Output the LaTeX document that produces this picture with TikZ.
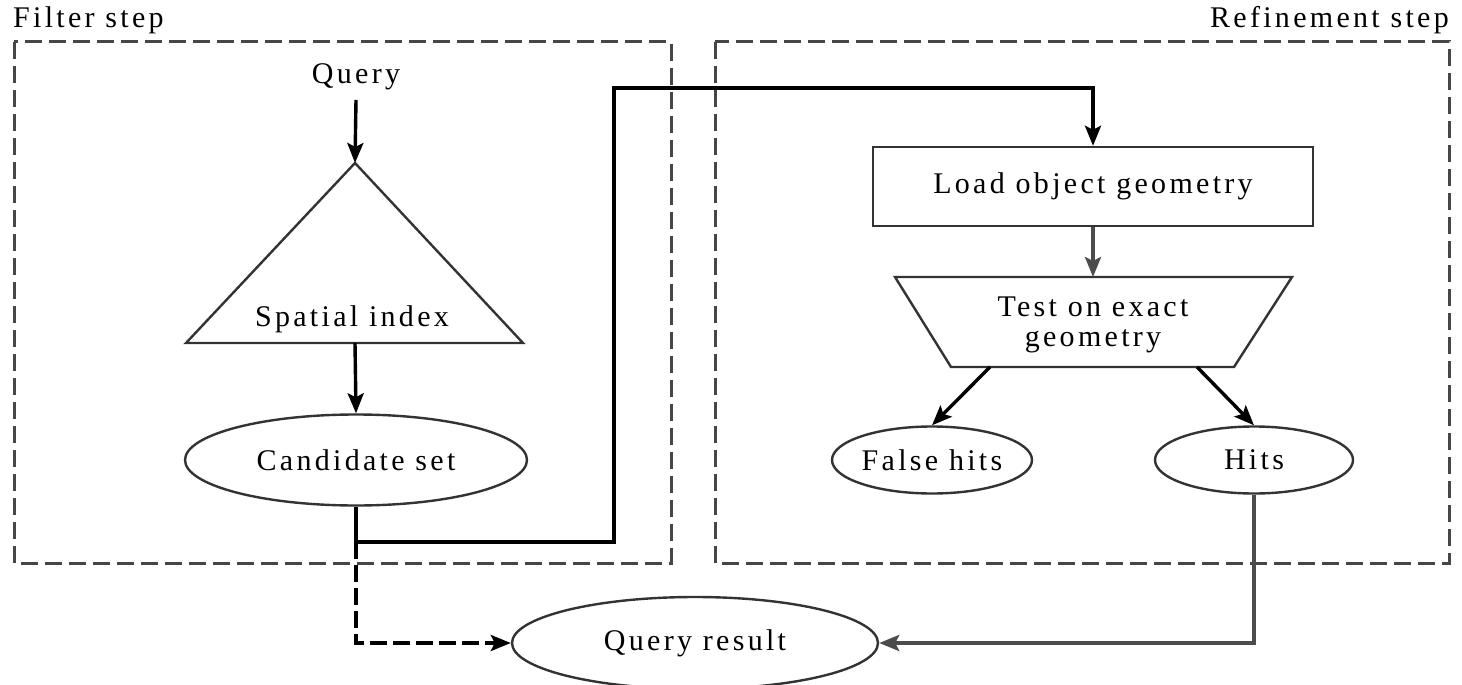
\documentclass[tikz,border=0pt]{standalone}
\usepackage{fontspec}
\setmainfont{Liberation Serif}[LetterSpace=11]
\usetikzlibrary{arrows.meta,shapes.geometric,calc}

\begin{document}
\begin{tikzpicture}[x=1pt,y=-1pt,
  every node/.style={font=\fontsize{30}{30}\selectfont, inner sep=0pt},
  stage/.style={draw=gray!55!black, line width=3pt, dash pattern=on 17pt off 7pt},
  outline/.style={draw=black!80, line width=2.4pt},
  oval/.style={outline, ellipse},
  tip/.style={-{Stealth[length=20pt,width=16pt,inset=4pt]}},
  flow/.style={tip, line width=3.4pt, draw=black},
  flowgray/.style={tip, line width=3.6pt, draw=black!70},
  label/.style={anchor=base}
]
\useasboundingbox (0,0) rectangle (1462,685);

% the two stages
\draw[stage] (14,42) rectangle (671,563);
\draw[stage] (715,42) rectangle (1449,563);
\node[anchor=base west] (filterlbl) at (13,28) {Filter step};
\node[anchor=base east] (refinelbl) at (1449,28) {Refinement step};

% filter step
\node[label] (query) at (356,84) {Query};
\coordinate (apex) at (355,163);
\coordinate (baseL) at (186,343);
\coordinate (baseR) at (523,343);
\coordinate (basemid) at (355,343);
\draw[outline] (apex) -- (baseR) -- (baseL) -- cycle;
\node[label] (index) at (352,326) {Spatial index};
\node[oval, minimum width=342pt, minimum height=91pt] (cand) at (356,460) {Candidate set};

% refinement step
\node[outline, draw, rectangle, minimum width=440pt, minimum height=79pt] (load) at (1093,186.5) {Load object geometry};
\coordinate (tTL) at (895,277);
\coordinate (tTR) at (1292,277);
\coordinate (tBR) at (1234,367);
\coordinate (tBL) at (951,367);
\coordinate (ttop) at (1093,277);
\coordinate (tout1) at (990,367);
\coordinate (tout2) at (1197,367);
\draw[outline] (tTL) -- (tTR) -- (tBR) -- (tBL) -- cycle;
\node[align=center] (test) at (1093,325) {Test on exact\\geometry};
\node[oval, minimum width=200pt, minimum height=67pt] (false) at (932,460) {False hits};
\node[oval, minimum width=198pt, minimum height=67pt] (hits) at (1254,460) {Hits};

% result
\node[oval, minimum width=366pt, minimum height=92pt] (result) at (695,643) {Query result};

% connectors
\coordinate (split) at (356,542);
\coordinate (up1) at (614,542);
\coordinate (up2) at (614,88);
\coordinate (over) at (1093,88);

\draw[flow] ($(query.base)+(0,16)$) -- (apex);
\draw[flow] (basemid) -- (cand.north);
\draw[flow] (cand.south) -- (split) -- (up1) -- (up2) -- (over) -- (load.north);
\draw[flow, dash pattern=on 17pt off 6pt] (split) |- (result.west);
\draw[flowgray] (load.south) -- (ttop);
\draw[flow] (tout1) -- (false.north);
\draw[flow] (tout2) -- (hits.north);
\draw[flowgray] (hits.south) |- (result.east);
\end{tikzpicture}
\end{document}
